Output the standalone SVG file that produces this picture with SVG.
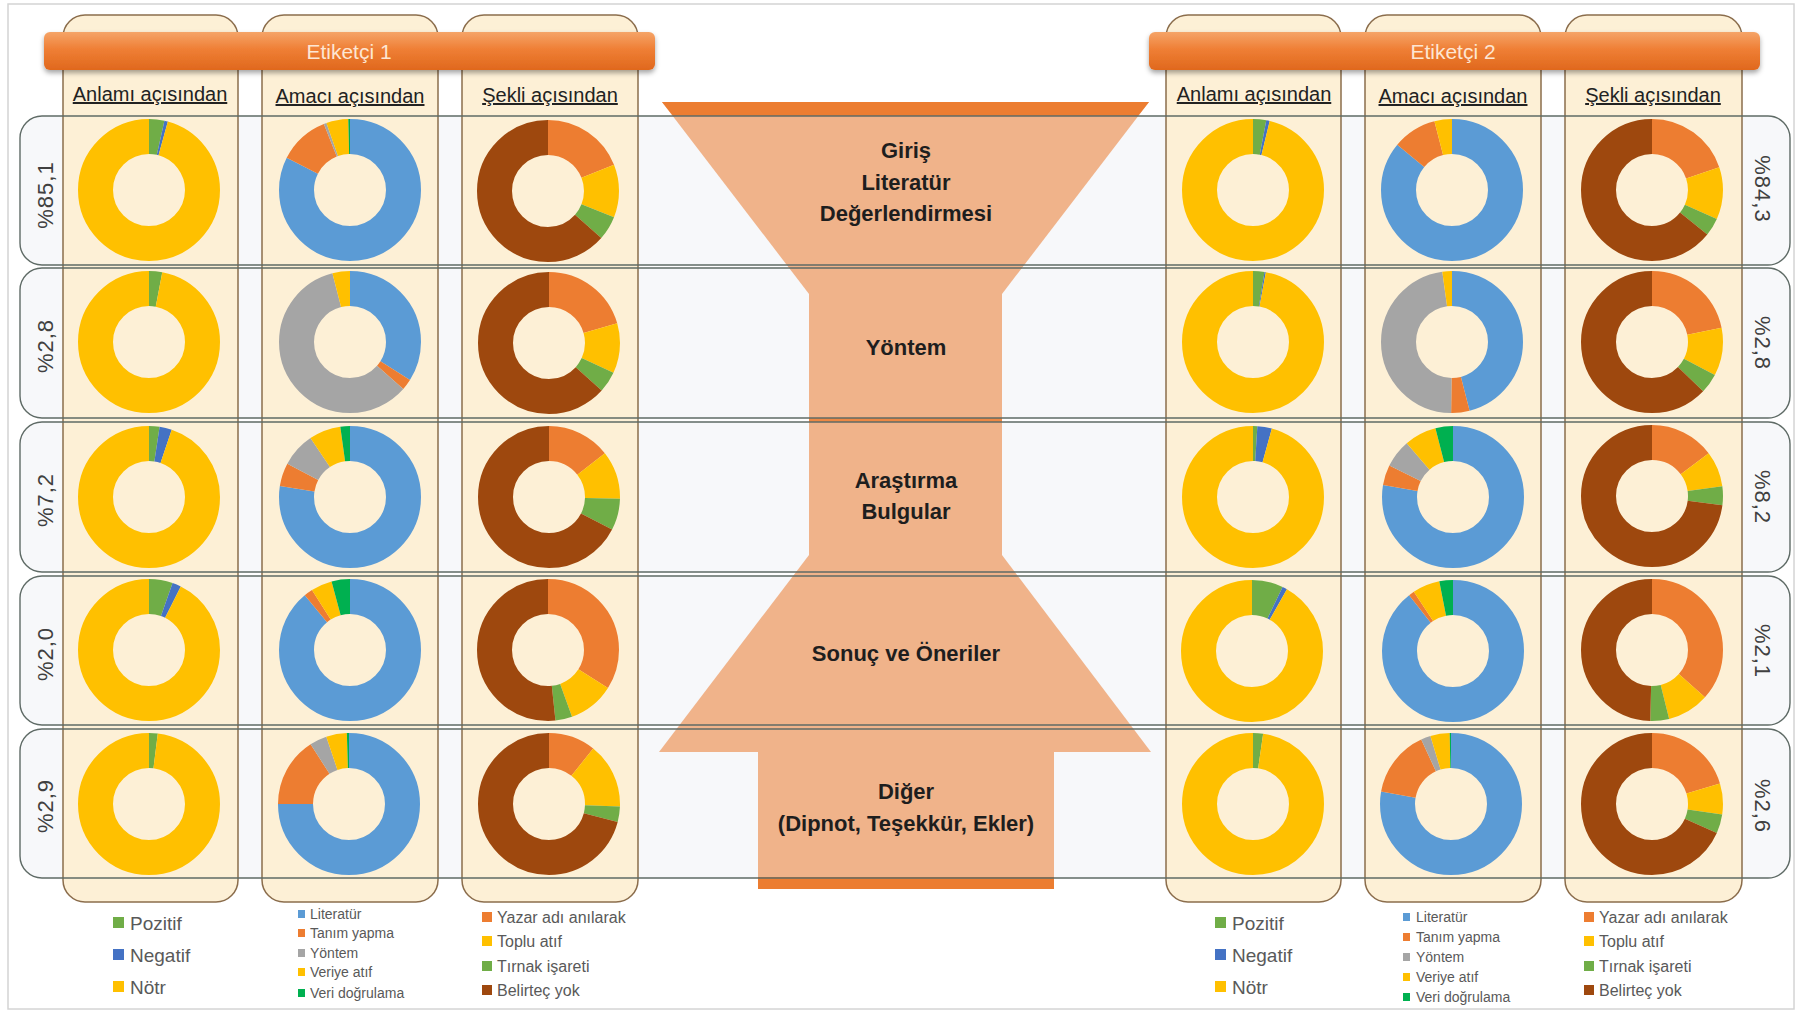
<svg xmlns="http://www.w3.org/2000/svg" width="1798" height="1011" viewBox="0 0 1798 1011">
<defs>
<style>
text{font-family:"Liberation Sans",Arial,sans-serif}
.col{fill:#fdf0d6;stroke:#8b6d4c;stroke-width:1.5}
.rowbg{fill:#f7f8fa}
.rowln{fill:none;stroke:#5f6b66;stroke-width:1.4}
.fun{fill:#f0b38a}
.fund{fill:#ec7d31}
.hdr{font-size:20px;fill:#222;text-anchor:middle;text-decoration:underline}
.ft{font-size:22px;font-weight:bold;fill:#1e1e1e;text-anchor:middle}
.ban{fill:url(#bg);filter:url(#sh)}
.bt{font-size:21px;fill:#fde6d3;text-anchor:middle}
.lbl{font-size:22px;fill:#404040;letter-spacing:1px;text-anchor:middle}
.l1{font-size:19px;fill:#595959}
.l2{font-size:14px;fill:#595959}
.l3{font-size:16px;fill:#595959}
.dn circle{fill:none;stroke-width:35}
.pz{stroke:#70ad47}.ng{stroke:#4472c4}.nt{stroke:#ffc000}
.li{stroke:#5b9bd5}.ta{stroke:#ed7d31}.yo{stroke:#a5a5a5}.ve{stroke:#ffc000}.do{stroke:#00b050}
.ya{stroke:#ed7d31}.to{stroke:#ffc000}.ti{stroke:#70ad47}.be{stroke:#9e480e}
.fpz{fill:#70ad47}.fng{fill:#4472c4}.fnt{fill:#ffc000}.fli{fill:#5b9bd5}.fta{fill:#ed7d31}.fyo{fill:#a5a5a5}.fdo{fill:#00b050}.fbe{fill:#9e480e}
</style>
<linearGradient id="bg" x1="0" y1="0" x2="0" y2="1">
<stop offset="0" stop-color="#f5a468"/>
<stop offset="0.45" stop-color="#ef7f35"/>
<stop offset="1" stop-color="#e0681d"/>
</linearGradient>
<filter id="sh" x="-5%" y="-30%" width="110%" height="180%">
<feDropShadow dx="0" dy="3" stdDeviation="2.5" flood-color="#000" flood-opacity="0.35"/>
</filter>
</defs>

<rect x="0" y="0" width="1798" height="1011" fill="#ffffff"/>
<rect id="frame" x="8" y="4" width="1786" height="1005" fill="none" stroke="#d4d4d4" stroke-width="1.5"/>

<g id="row-backgrounds">
<rect class="rowbg" x="20" y="116" width="1770" height="149" rx="22"/>
<rect class="rowbg" x="20" y="268" width="1770" height="150" rx="22"/>
<rect class="rowbg" x="20" y="422" width="1770" height="150" rx="22"/>
<rect class="rowbg" x="20" y="576" width="1770" height="149" rx="22"/>
<rect class="rowbg" x="20" y="729" width="1770" height="149" rx="22"/>
</g>

<g id="columns">
<rect id="col-a" class="col" x="63" y="15" width="175" height="887" rx="22"/>
<rect id="col-b" class="col" x="262" y="15" width="176" height="887" rx="22"/>
<rect id="col-c" class="col" x="462" y="15" width="176" height="887" rx="22"/>
<rect id="col-d" class="col" x="1166" y="15" width="175" height="887" rx="22"/>
<rect id="col-e" class="col" x="1365" y="15" width="176" height="887" rx="22"/>
<rect id="col-f" class="col" x="1565" y="15" width="177" height="887" rx="22"/>
</g>

<g id="funnel">
<g id="f-giris">
<polygon class="fun" points="662,102 1149,102 1002,294 809,294"/>
<polygon class="fund" points="662,102 1149,102 1138,116 673,116"/>
</g>
<g id="f-yontem"><rect class="fun" x="809" y="292" width="193" height="130"/></g>
<rect class="fund" x="809" y="418" width="193" height="4" opacity="0.8"/>
<g id="f-arastirma"><rect class="fun" x="809" y="422" width="193" height="136"/></g>
<g id="f-sonuc"><polygon class="fun" points="809,555 1002,555 1151,752 659,752"/></g>
<g id="f-diger">
<rect class="fun" x="758" y="750" width="296" height="139"/>
<rect class="fund" x="758" y="877" width="296" height="12"/>
</g>
<text class="ft" x="906" y="158">Giriş</text>
<text class="ft" x="906" y="190">Literatür</text>
<text class="ft" x="906" y="221">Değerlendirmesi</text>
<text class="ft" x="906" y="355">Yöntem</text>
<text class="ft" x="906" y="488">Araştırma</text>
<text class="ft" x="906" y="519">Bulgular</text>
<text class="ft" x="906" y="661">Sonuç ve Öneriler</text>
<text class="ft" x="906" y="799">Diğer</text>
<text class="ft" x="906" y="831">(Dipnot, Teşekkür, Ekler)</text>
</g>

<g id="row-outlines">
<rect class="rowln" x="20" y="116" width="1770" height="149" rx="22"/>
<rect class="rowln" x="20" y="268" width="1770" height="150" rx="22"/>
<rect class="rowln" x="20" y="422" width="1770" height="150" rx="22"/>
<rect class="rowln" x="20" y="576" width="1770" height="149" rx="22"/>
<rect class="rowln" x="20" y="729" width="1770" height="149" rx="22"/>
</g>

<g id="donuts">
<!-- Column A -->
<g id="donut-a1" class="dn" transform="translate(149 190) rotate(-90)">
<circle class="pz" r="53.5" pathLength="100" stroke-dasharray="3.5 100"/>
<circle class="ng" r="53.5" pathLength="100" stroke-dasharray="0.8 100" stroke-dashoffset="-3.5"/>
<circle class="nt" r="53.5" pathLength="100" stroke-dasharray="95.7 100" stroke-dashoffset="-4.3"/>
</g>
<g id="donut-a2" class="dn" transform="translate(149 342) rotate(-90)">
<circle class="pz" r="53.5" pathLength="100" stroke-dasharray="3 100"/>
<circle class="nt" r="53.5" pathLength="100" stroke-dasharray="97 100" stroke-dashoffset="-3"/>
</g>
<g id="donut-a3" class="dn" transform="translate(149 497) rotate(-90)">
<circle class="pz" r="53.5" pathLength="100" stroke-dasharray="2.4 100"/>
<circle class="ng" r="53.5" pathLength="100" stroke-dasharray="2.8 100" stroke-dashoffset="-2.4"/>
<circle class="nt" r="53.5" pathLength="100" stroke-dasharray="94.8 100" stroke-dashoffset="-5.2"/>
</g>
<g id="donut-a4" class="dn" transform="translate(149 650) rotate(-90)">
<circle class="pz" r="53.5" pathLength="100" stroke-dasharray="5.4 100"/>
<circle class="ng" r="53.5" pathLength="100" stroke-dasharray="2 100" stroke-dashoffset="-5.4"/>
<circle class="nt" r="53.5" pathLength="100" stroke-dasharray="92.6 100" stroke-dashoffset="-7.4"/>
</g>
<g id="donut-a5" class="dn" transform="translate(149 804) rotate(-90)">
<circle class="pz" r="53.5" pathLength="100" stroke-dasharray="2 100"/>
<circle class="nt" r="53.5" pathLength="100" stroke-dasharray="98 100" stroke-dashoffset="-2"/>
</g>
<!-- Column B -->
<g id="donut-b1" class="dn" transform="translate(350 190) rotate(-90)">
<circle class="li" r="53.5" pathLength="100" stroke-dasharray="82.5 100"/>
<circle class="ta" r="53.5" pathLength="100" stroke-dasharray="11.5 100" stroke-dashoffset="-82.5"/>
<circle class="yo" r="53.5" pathLength="100" stroke-dasharray="0.6 100" stroke-dashoffset="-94"/>
<circle class="ve" r="53.5" pathLength="100" stroke-dasharray="5 100" stroke-dashoffset="-94.6"/>
<circle class="do" r="53.5" pathLength="100" stroke-dasharray="0.4 100" stroke-dashoffset="-99.6"/>
</g>
<g id="donut-b2" class="dn" transform="translate(350 342) rotate(-90)">
<circle class="li" r="53.5" pathLength="100" stroke-dasharray="34 100"/>
<circle class="ta" r="53.5" pathLength="100" stroke-dasharray="2.5 100" stroke-dashoffset="-34"/>
<circle class="yo" r="53.5" pathLength="100" stroke-dasharray="59.5 100" stroke-dashoffset="-36.5"/>
<circle class="ve" r="53.5" pathLength="100" stroke-dasharray="4 100" stroke-dashoffset="-96"/>
</g>
<g id="donut-b3" class="dn" transform="translate(350 497) rotate(-90)">
<circle class="li" r="53.5" pathLength="100" stroke-dasharray="77.5 100"/>
<circle class="ta" r="53.5" pathLength="100" stroke-dasharray="5.3 100" stroke-dashoffset="-77.5"/>
<circle class="yo" r="53.5" pathLength="100" stroke-dasharray="7.8 100" stroke-dashoffset="-82.8"/>
<circle class="ve" r="53.5" pathLength="100" stroke-dasharray="7.2 100" stroke-dashoffset="-90.6"/>
<circle class="do" r="53.5" pathLength="100" stroke-dasharray="2.2 100" stroke-dashoffset="-97.8"/>
</g>
<g id="donut-b4" class="dn" transform="translate(350 650) rotate(-90)">
<circle class="li" r="53.5" pathLength="100" stroke-dasharray="89 100"/>
<circle class="ta" r="53.5" pathLength="100" stroke-dasharray="2 100" stroke-dashoffset="-89"/>
<circle class="ve" r="53.5" pathLength="100" stroke-dasharray="4.8 100" stroke-dashoffset="-91"/>
<circle class="do" r="53.5" pathLength="100" stroke-dasharray="4.2 100" stroke-dashoffset="-95.8"/>
</g>
<g id="donut-b5" class="dn" transform="translate(349 804) rotate(-90)">
<circle class="li" r="53.5" pathLength="100" stroke-dasharray="75 100"/>
<circle class="ta" r="53.5" pathLength="100" stroke-dasharray="15.9 100" stroke-dashoffset="-75"/>
<circle class="yo" r="53.5" pathLength="100" stroke-dasharray="3.9 100" stroke-dashoffset="-90.9"/>
<circle class="ve" r="53.5" pathLength="100" stroke-dasharray="4.7 100" stroke-dashoffset="-94.8"/>
<circle class="do" r="53.5" pathLength="100" stroke-dasharray="0.5 100" stroke-dashoffset="-99.5"/>
</g>
<!-- Column C -->
<g id="donut-c1" class="dn" transform="translate(548 191) rotate(-90)">
<circle class="ya" r="53.5" pathLength="100" stroke-dasharray="19 100"/>
<circle class="to" r="53.5" pathLength="100" stroke-dasharray="12 100" stroke-dashoffset="-19"/>
<circle class="ti" r="53.5" pathLength="100" stroke-dasharray="5.5 100" stroke-dashoffset="-31"/>
<circle class="be" r="53.5" pathLength="100" stroke-dasharray="63.5 100" stroke-dashoffset="-36.5"/>
</g>
<g id="donut-c2" class="dn" transform="translate(549 343) rotate(-90)">
<circle class="ya" r="53.5" pathLength="100" stroke-dasharray="20.5 100"/>
<circle class="to" r="53.5" pathLength="100" stroke-dasharray="11.4 100" stroke-dashoffset="-20.5"/>
<circle class="ti" r="53.5" pathLength="100" stroke-dasharray="4.8 100" stroke-dashoffset="-31.9"/>
<circle class="be" r="53.5" pathLength="100" stroke-dasharray="63.3 100" stroke-dashoffset="-36.7"/>
</g>
<g id="donut-c3" class="dn" transform="translate(549 497) rotate(-90)">
<circle class="ya" r="53.5" pathLength="100" stroke-dasharray="14.4 100"/>
<circle class="to" r="53.5" pathLength="100" stroke-dasharray="11 100" stroke-dashoffset="-14.4"/>
<circle class="ti" r="53.5" pathLength="100" stroke-dasharray="7.2 100" stroke-dashoffset="-25.4"/>
<circle class="be" r="53.5" pathLength="100" stroke-dasharray="67.4 100" stroke-dashoffset="-32.6"/>
</g>
<g id="donut-c4" class="dn" transform="translate(548 650) rotate(-90)">
<circle class="ya" r="53.5" pathLength="100" stroke-dasharray="34 100"/>
<circle class="to" r="53.5" pathLength="100" stroke-dasharray="10.5 100" stroke-dashoffset="-34"/>
<circle class="ti" r="53.5" pathLength="100" stroke-dasharray="3.8 100" stroke-dashoffset="-44.5"/>
<circle class="be" r="53.5" pathLength="100" stroke-dasharray="51.7 100" stroke-dashoffset="-48.3"/>
</g>
<g id="donut-c5" class="dn" transform="translate(549 804) rotate(-90)">
<circle class="ya" r="53.5" pathLength="100" stroke-dasharray="10.7 100"/>
<circle class="to" r="53.5" pathLength="100" stroke-dasharray="14.9 100" stroke-dashoffset="-10.7"/>
<circle class="ti" r="53.5" pathLength="100" stroke-dasharray="3.5 100" stroke-dashoffset="-25.6"/>
<circle class="be" r="53.5" pathLength="100" stroke-dasharray="70.9 100" stroke-dashoffset="-29.1"/>
</g>
<!-- Column D -->
<g id="donut-d1" class="dn" transform="translate(1253 190) rotate(-90)">
<circle class="pz" r="53.5" pathLength="100" stroke-dasharray="3 100"/>
<circle class="ng" r="53.5" pathLength="100" stroke-dasharray="0.8 100" stroke-dashoffset="-3"/>
<circle class="nt" r="53.5" pathLength="100" stroke-dasharray="96.2 100" stroke-dashoffset="-3.8"/>
</g>
<g id="donut-d2" class="dn" transform="translate(1253 342) rotate(-90)">
<circle class="pz" r="53.5" pathLength="100" stroke-dasharray="2.6 100"/>
<circle class="ng" r="53.5" pathLength="100" stroke-dasharray="0.3 100" stroke-dashoffset="-2.6"/>
<circle class="nt" r="53.5" pathLength="100" stroke-dasharray="97.1 100" stroke-dashoffset="-2.9"/>
</g>
<g id="donut-d3" class="dn" transform="translate(1253 497) rotate(-90)">
<circle class="pz" r="53.5" pathLength="100" stroke-dasharray="1 100"/>
<circle class="ng" r="53.5" pathLength="100" stroke-dasharray="3.3 100" stroke-dashoffset="-1"/>
<circle class="nt" r="53.5" pathLength="100" stroke-dasharray="95.7 100" stroke-dashoffset="-4.3"/>
</g>
<g id="donut-d4" class="dn" transform="translate(1252 651) rotate(-90)">
<circle class="pz" r="53.5" pathLength="100" stroke-dasharray="7.1 100"/>
<circle class="ng" r="53.5" pathLength="100" stroke-dasharray="1.1 100" stroke-dashoffset="-7.1"/>
<circle class="nt" r="53.5" pathLength="100" stroke-dasharray="91.8 100" stroke-dashoffset="-8.2"/>
</g>
<g id="donut-d5" class="dn" transform="translate(1253 804) rotate(-90)">
<circle class="pz" r="53.5" pathLength="100" stroke-dasharray="2.3 100"/>
<circle class="nt" r="53.5" pathLength="100" stroke-dasharray="97.7 100" stroke-dashoffset="-2.3"/>
</g>
<!-- Column E -->
<g id="donut-e1" class="dn" transform="translate(1452 190) rotate(-90)">
<circle class="li" r="53.5" pathLength="100" stroke-dasharray="86 100"/>
<circle class="ta" r="53.5" pathLength="100" stroke-dasharray="10 100" stroke-dashoffset="-86"/>
<circle class="ve" r="53.5" pathLength="100" stroke-dasharray="4 100" stroke-dashoffset="-96"/>
</g>
<g id="donut-e2" class="dn" transform="translate(1452 342) rotate(-90)">
<circle class="li" r="53.5" pathLength="100" stroke-dasharray="46 100"/>
<circle class="ta" r="53.5" pathLength="100" stroke-dasharray="4.2 100" stroke-dashoffset="-46"/>
<circle class="yo" r="53.5" pathLength="100" stroke-dasharray="47.6 100" stroke-dashoffset="-50.2"/>
<circle class="ve" r="53.5" pathLength="100" stroke-dasharray="2.2 100" stroke-dashoffset="-97.8"/>
</g>
<g id="donut-e3" class="dn" transform="translate(1453 497) rotate(-90)">
<circle class="li" r="53.5" pathLength="100" stroke-dasharray="77.7 100"/>
<circle class="ta" r="53.5" pathLength="100" stroke-dasharray="4.6 100" stroke-dashoffset="-77.7"/>
<circle class="yo" r="53.5" pathLength="100" stroke-dasharray="6.4 100" stroke-dashoffset="-82.3"/>
<circle class="ve" r="53.5" pathLength="100" stroke-dasharray="7.3 100" stroke-dashoffset="-88.7"/>
<circle class="do" r="53.5" pathLength="100" stroke-dasharray="4 100" stroke-dashoffset="-96"/>
</g>
<g id="donut-e4" class="dn" transform="translate(1453 651) rotate(-90)">
<circle class="li" r="53.5" pathLength="100" stroke-dasharray="89.4 100"/>
<circle class="ta" r="53.5" pathLength="100" stroke-dasharray="1.3 100" stroke-dashoffset="-89.4"/>
<circle class="ve" r="53.5" pathLength="100" stroke-dasharray="6.2 100" stroke-dashoffset="-90.7"/>
<circle class="do" r="53.5" pathLength="100" stroke-dasharray="3.1 100" stroke-dashoffset="-96.9"/>
</g>
<g id="donut-e5" class="dn" transform="translate(1451 804) rotate(-90)">
<circle class="li" r="53.5" pathLength="100" stroke-dasharray="77.8 100"/>
<circle class="ta" r="53.5" pathLength="100" stroke-dasharray="15.3 100" stroke-dashoffset="-77.8"/>
<circle class="yo" r="53.5" pathLength="100" stroke-dasharray="2.2 100" stroke-dashoffset="-93.1"/>
<circle class="ve" r="53.5" pathLength="100" stroke-dasharray="4.4 100" stroke-dashoffset="-95.3"/>
<circle class="do" r="53.5" pathLength="100" stroke-dasharray="0.3 100" stroke-dashoffset="-99.7"/>
</g>
<!-- Column F -->
<g id="donut-f1" class="dn" transform="translate(1652 190) rotate(-90)">
<circle class="ya" r="53.5" pathLength="100" stroke-dasharray="19.8 100"/>
<circle class="to" r="53.5" pathLength="100" stroke-dasharray="11.9 100" stroke-dashoffset="-19.8"/>
<circle class="ti" r="53.5" pathLength="100" stroke-dasharray="4.1 100" stroke-dashoffset="-31.7"/>
<circle class="be" r="53.5" pathLength="100" stroke-dasharray="64.2 100" stroke-dashoffset="-35.8"/>
</g>
<g id="donut-f2" class="dn" transform="translate(1652 342) rotate(-90)">
<circle class="ya" r="53.5" pathLength="100" stroke-dasharray="21.8 100"/>
<circle class="to" r="53.5" pathLength="100" stroke-dasharray="10.9 100" stroke-dashoffset="-21.8"/>
<circle class="ti" r="53.5" pathLength="100" stroke-dasharray="4.5 100" stroke-dashoffset="-32.7"/>
<circle class="be" r="53.5" pathLength="100" stroke-dasharray="62.8 100" stroke-dashoffset="-37.2"/>
</g>
<g id="donut-f3" class="dn" transform="translate(1652 496) rotate(-90)">
<circle class="ya" r="53.5" pathLength="100" stroke-dasharray="14.7 100"/>
<circle class="to" r="53.5" pathLength="100" stroke-dasharray="8.1 100" stroke-dashoffset="-14.7"/>
<circle class="ti" r="53.5" pathLength="100" stroke-dasharray="4.3 100" stroke-dashoffset="-22.8"/>
<circle class="be" r="53.5" pathLength="100" stroke-dasharray="72.9 100" stroke-dashoffset="-27.1"/>
</g>
<g id="donut-f4" class="dn" transform="translate(1652 650) rotate(-90)">
<circle class="ya" r="53.5" pathLength="100" stroke-dasharray="36.6 100"/>
<circle class="to" r="53.5" pathLength="100" stroke-dasharray="9.5 100" stroke-dashoffset="-36.6"/>
<circle class="ti" r="53.5" pathLength="100" stroke-dasharray="4.3 100" stroke-dashoffset="-46.1"/>
<circle class="be" r="53.5" pathLength="100" stroke-dasharray="49.6 100" stroke-dashoffset="-50.4"/>
</g>
<g id="donut-f5" class="dn" transform="translate(1652 804) rotate(-90)">
<circle class="ya" r="53.5" pathLength="100" stroke-dasharray="20.3 100"/>
<circle class="to" r="53.5" pathLength="100" stroke-dasharray="7.1 100" stroke-dashoffset="-20.3"/>
<circle class="ti" r="53.5" pathLength="100" stroke-dasharray="4.3 100" stroke-dashoffset="-27.4"/>
<circle class="be" r="53.5" pathLength="100" stroke-dasharray="68.3 100" stroke-dashoffset="-31.7"/>
</g>
</g>

<g id="banner-1">
<rect class="ban" x="44" y="32" width="611" height="38" rx="6"/>
<text class="bt" x="349" y="59">Etiketçi 1</text>
</g>
<g id="banner-2">
<rect class="ban" x="1149" y="32" width="611" height="38" rx="6"/>
<text class="bt" x="1453" y="59">Etiketçi 2</text>
</g>

<g id="headers">
<text class="hdr" x="150" y="101">Anlamı açısından</text>
<text class="hdr" x="350" y="103">Amacı açısından</text>
<text class="hdr" x="550" y="102">Şekli açısından</text>
<text class="hdr" x="1254" y="101">Anlamı açısından</text>
<text class="hdr" x="1453" y="103">Amacı açısından</text>
<text class="hdr" x="1653" y="102">Şekli açısından</text>
</g>

<g id="row-labels">
<text class="lbl" transform="translate(53 195) rotate(-90)">%85,1</text>
<text class="lbl" transform="translate(53 346) rotate(-90)">%2,8</text>
<text class="lbl" transform="translate(53 500) rotate(-90)">%7,2</text>
<text class="lbl" transform="translate(53 654) rotate(-90)">%2,0</text>
<text class="lbl" transform="translate(53 806) rotate(-90)">%2,9</text>
<text class="lbl" transform="translate(1755 189) rotate(90)">%84,3</text>
<text class="lbl" transform="translate(1755 343) rotate(90)">%2,8</text>
<text class="lbl" transform="translate(1755 497) rotate(90)">%8,2</text>
<text class="lbl" transform="translate(1755 651) rotate(90)">%2,1</text>
<text class="lbl" transform="translate(1755 806) rotate(90)">%2,6</text>
</g>

<g id="legend-anlam-1">
<rect class="fpz" x="113" y="917" width="11" height="11"/><text class="l1" x="130" y="930">Pozitif</text>
<rect class="fng" x="113" y="949" width="11" height="11"/><text class="l1" x="130" y="962">Negatif</text>
<rect class="fnt" x="113" y="981" width="11" height="11"/><text class="l1" x="130" y="994">Nötr</text>
</g>
<g id="legend-amac-1">
<rect class="fli" x="298" y="910" width="7" height="8"/><text class="l2" x="310" y="919">Literatür</text>
<rect class="fta" x="298" y="929" width="7" height="8"/><text class="l2" x="310" y="938">Tanım yapma</text>
<rect class="fyo" x="298" y="949" width="7" height="8"/><text class="l2" x="310" y="958">Yöntem</text>
<rect class="fnt" x="298" y="968" width="7" height="8"/><text class="l2" x="310" y="977">Veriye atıf</text>
<rect class="fdo" x="298" y="989" width="7" height="8"/><text class="l2" x="310" y="998">Veri doğrulama</text>
</g>
<g id="legend-sekil-1">
<rect class="fta" x="482" y="912" width="10" height="10"/><text class="l3" x="497" y="923">Yazar adı anılarak</text>
<rect class="fnt" x="482" y="936" width="10" height="10"/><text class="l3" x="497" y="947">Toplu atıf</text>
<rect class="fpz" x="482" y="961" width="10" height="10"/><text class="l3" x="497" y="972">Tırnak işareti</text>
<rect class="fbe" x="482" y="985" width="10" height="10"/><text class="l3" x="497" y="996">Belirteç yok</text>
</g>
<g id="legend-anlam-2">
<rect class="fpz" x="1215" y="917" width="11" height="11"/><text class="l1" x="1232" y="930">Pozitif</text>
<rect class="fng" x="1215" y="949" width="11" height="11"/><text class="l1" x="1232" y="962">Negatif</text>
<rect class="fnt" x="1215" y="981" width="11" height="11"/><text class="l1" x="1232" y="994">Nötr</text>
</g>
<g id="legend-amac-2">
<rect class="fli" x="1403" y="913" width="7" height="8"/><text class="l2" x="1416" y="922">Literatür</text>
<rect class="fta" x="1403" y="933" width="7" height="8"/><text class="l2" x="1416" y="942">Tanım yapma</text>
<rect class="fyo" x="1403" y="953" width="7" height="8"/><text class="l2" x="1416" y="962">Yöntem</text>
<rect class="fnt" x="1403" y="973" width="7" height="8"/><text class="l2" x="1416" y="982">Veriye atıf</text>
<rect class="fdo" x="1403" y="993" width="7" height="8"/><text class="l2" x="1416" y="1002">Veri doğrulama</text>
</g>
<g id="legend-sekil-2">
<rect class="fta" x="1584" y="912" width="10" height="10"/><text class="l3" x="1599" y="923">Yazar adı anılarak</text>
<rect class="fnt" x="1584" y="936" width="10" height="10"/><text class="l3" x="1599" y="947">Toplu atıf</text>
<rect class="fpz" x="1584" y="961" width="10" height="10"/><text class="l3" x="1599" y="972">Tırnak işareti</text>
<rect class="fbe" x="1584" y="985" width="10" height="10"/><text class="l3" x="1599" y="996">Belirteç yok</text>
</g>
</svg>
